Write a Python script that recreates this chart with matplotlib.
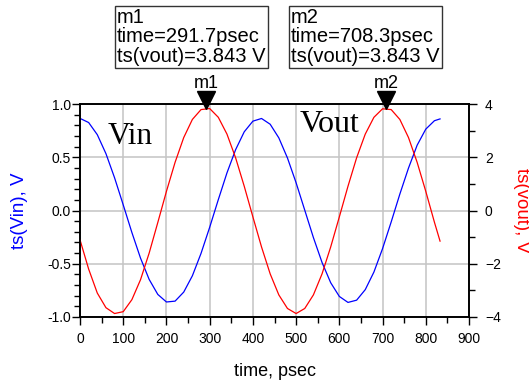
import numpy as np
import matplotlib
matplotlib.use("Agg")
import matplotlib.pyplot as plt
from matplotlib.ticker import MultipleLocator

plt.rcParams['font.family'] = ['Liberation Sans', 'DejaVu Sans']

# time samples, psec
time = [0, 20, 40, 60, 80, 100, 120, 140, 160, 180, 200, 220, 240, 260, 280,
        300, 320, 340, 360, 380, 400, 420, 440, 460, 480, 500, 520, 540, 560,
        580, 600, 620, 640, 660, 680, 700, 720, 740, 760, 780, 800, 820, 833]

# ts(Vin), V  (left axis)
vin = [0.865, 0.826, 0.712, 0.534, 0.307, 0.053, -0.206, -0.447, -0.647,
       -0.788, -0.859, -0.851, -0.766, -0.613, -0.403, -0.158, 0.102, 0.353,
       0.571, 0.739, 0.839, 0.864, 0.810, 0.682, 0.493, 0.260, 0.003, -0.254,
       -0.488, -0.678, -0.807, -0.863, -0.842, -0.743, -0.578, -0.358, -0.107,
       0.154, 0.398, 0.613, 0.764, 0.843, 0.860]

# ts(vout), V  (right axis)
vout = [-1.10, -2.20, -3.10, -3.65, -3.87, -3.80, -3.35, -2.60, -1.60, -0.45,
        0.72, 1.81, 2.74, 3.42, 3.79, 3.83, 3.50, 2.87, 1.98, 0.91, -0.24,
        -1.37, -2.38, -3.17, -3.68, -3.87, -3.68, -3.17, -2.38, -1.37, -0.24,
        0.91, 1.98, 2.87, 3.50, 3.82, 3.79, 3.42, 2.74, 1.81, 0.72, -0.44, -1.15]

markers = ['m1', 'm2']
marker_time = [291.7, 708.3]
marker_val = [3.843, 3.843]

fig = plt.figure(figsize=(5.29, 3.85), dpi=100)
ax1 = fig.add_axes([80 / 529, 1 - 317 / 385, 389 / 529, 213 / 385])
ax2 = ax1.twinx()

ax1.plot(time, vin, color='blue', lw=0.9)
ax2.plot(time, vout, color='red', lw=0.9)

ax1.set_xlim(0, 900)
ax1.set_ylim(-1.0, 1.0)
ax2.set_ylim(-4, 4)

ax1.xaxis.set_major_locator(MultipleLocator(100))
ax1.xaxis.set_minor_locator(MultipleLocator(50))
ax1.yaxis.set_major_locator(MultipleLocator(0.5))
ax1.yaxis.set_minor_locator(MultipleLocator(0.1))
ax2.yaxis.set_major_locator(MultipleLocator(2))
ax2.yaxis.set_minor_locator(MultipleLocator(1))
ax1.yaxis.set_major_formatter(plt.FuncFormatter(lambda v, p: '%.1f' % v))

ax1.grid(True, which='major', color='#c4c4c4', lw=1.1)
ax1.set_axisbelow(True)

for ax in (ax1, ax2):
    ax.tick_params(which='major', direction='out', length=5.5, width=1, labelsize=10)
    ax.tick_params(which='minor', direction='out', length=4, width=1)
    for s in ax.spines.values():
        s.set_linewidth(1.2)
ax1.tick_params(axis='y', which='both', pad=1)
ax1.tick_params(axis='x', which='major', pad=5)
ax2.tick_params(axis='y', which='major', pad=6)

ax1.set_xlabel('time, psec', fontsize=13)
ax1.set_ylabel('ts(Vin), V', color='blue', fontsize=13.5)
ax2.set_ylabel('ts(vout), V', color='red', fontsize=13.5, rotation=270, va='center')
ax1.xaxis.set_label_coords(0.5, -0.215)
ax1.yaxis.set_label_coords(-0.134, 0.5)
ax2.yaxis.set_label_coords(1.134, 0.5)

ax1.text(65, 0.624, 'Vin', family=['Liberation Serif'], fontsize=22.5, va='baseline')
ax1.text(508, 0.737, 'Vout', family=['Liberation Serif'], fontsize=23, va='baseline')

# markers with readout boxes
box_x = [117, 291]
for name, t, v, bx in zip(markers, marker_time, marker_val, box_x):
    ax2.plot([t], [v + 0.29], marker='v', color='black', markersize=13,
             clip_on=False, linestyle='none')
    ax2.annotate(name, (t, v), xytext=(0, 14.5), textcoords='offset points',
                 ha='center', va='baseline', fontsize=13, annotation_clip=False)
    fig.text(bx / 529, 1 - 8 / 385,
             '%s\ntime=%.1fpsec\nts(vout)=%.3f V' % (name, t, v),
             ha='left', va='top', fontsize=14.5, linespacing=1.02,
             bbox=dict(boxstyle='square,pad=0.12', fc='white', ec='#333333', lw=1))

fig.savefig('out.png', dpi=100)
